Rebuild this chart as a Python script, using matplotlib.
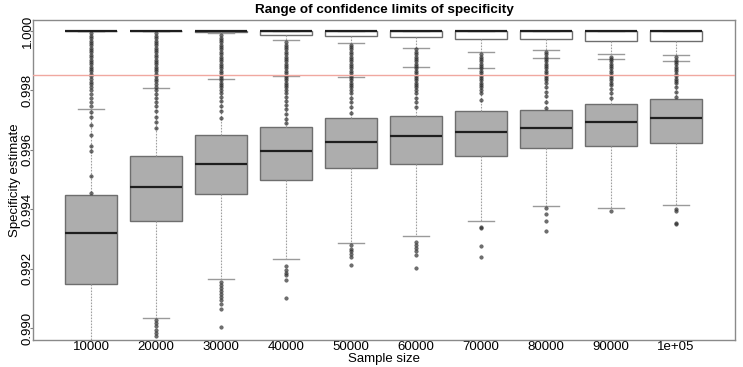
import matplotlib
matplotlib.use("Agg")
import matplotlib.pyplot as plt

plt.rcParams["font.family"] = ["Liberation Sans", "DejaVu Sans"]

# Sample sizes (x categories)
sizes = ["10000", "20000", "30000", "40000", "50000",
         "60000", "70000", "80000", "90000", "1e+05"]

# Lower confidence limits (grey boxes)
low_q1 = [0.99148, 0.99360, 0.99453, 0.99498, 0.99538,
          0.99554, 0.99580, 0.99605, 0.99614, 0.99624]
low_med = [0.99319, 0.99476, 0.99552, 0.99596, 0.99625,
           0.99646, 0.99661, 0.99674, 0.99693, 0.99708]
low_q3 = [0.99448, 0.99579, 0.99650, 0.99678, 0.99708,
          0.99715, 0.99731, 0.99734, 0.99753, 0.99770]
low_whislo = [0.98850, 0.99033, 0.99164, 0.99232, 0.99285,
              0.99310, 0.99362, 0.99411, 0.99405, 0.99413]
low_whishi = [0.99737, 0.99808, 0.99839, 0.99848, 0.99844,
              0.99880, 0.99875, 0.99908, 0.99905, 0.99898]
low_out = [
    [],
    [0.99027, 0.99018, 0.99008, 0.98995, 0.98985, 0.98972],
    [0.99155, 0.99145, 0.99135, 0.99125, 0.99115, 0.99105, 0.99095,
     0.99080, 0.99065, 0.99003],
    [0.99210, 0.99195, 0.99185, 0.99178, 0.99162, 0.99101],
    [0.99279, 0.99265, 0.99258, 0.99250, 0.99239, 0.99212],
    [0.99291, 0.99280, 0.99270, 0.99258, 0.99246, 0.99201],
    [0.99341, 0.99336, 0.99278, 0.99239],
    [0.99403, 0.99383, 0.99361, 0.99328],
    [0.99395],
    [0.99400, 0.99395, 0.99355, 0.99349],
]

# Upper confidence limits (white boxes near 1)
up_q1 = [1.0, 1.0, 0.99998, 0.99987, 0.99983,
         0.99979, 0.99972, 0.99973, 0.99967, 0.99967]
up_med = [1.0, 1.0, 1.0, 1.0, 1.0, 1.0, 1.0, 1.0, 1.0, 1.0]
up_q3 = [1.0, 1.0, 1.0, 1.0, 1.0, 1.0, 1.0, 1.0, 1.0, 1.0]
up_whislo = [1.0, 1.0, 0.99993, 0.99969, 0.99960,
             0.99944, 0.99928, 0.99936, 0.99921, 0.99918]
up_whishi = [1.0, 1.0, 1.0, 1.0, 1.0, 1.0, 1.0, 1.0, 1.0, 1.0]
up_out = [
    [0.99992, 0.99984, 0.99976, 0.99968, 0.99960, 0.99952, 0.99944,
     0.99936, 0.99928, 0.99920, 0.99912, 0.99904, 0.99896, 0.99888,
     0.99880, 0.99872, 0.99864, 0.99856, 0.99848, 0.99840, 0.99830,
     0.99820, 0.99810, 0.99800, 0.99788, 0.99775, 0.99762, 0.99748,
     0.99728, 0.99712, 0.99682, 0.99650, 0.99612, 0.99596, 0.99512,
     0.99455],
    [0.99992, 0.99984, 0.99976, 0.99968, 0.99960, 0.99952, 0.99944,
     0.99936, 0.99928, 0.99920, 0.99912, 0.99904, 0.99896, 0.99888,
     0.99880, 0.99872, 0.99864, 0.99856, 0.99848, 0.99840, 0.99832,
     0.99822, 0.99812, 0.99800, 0.99788, 0.99776, 0.99762, 0.99748,
     0.99730, 0.99712, 0.99695, 0.99673],
    [0.99986, 0.99978, 0.99970, 0.99962, 0.99954, 0.99946, 0.99938,
     0.99930, 0.99922, 0.99914, 0.99906, 0.99898, 0.99890, 0.99882,
     0.99874, 0.99866, 0.99858, 0.99850, 0.99842, 0.99834, 0.99826,
     0.99818, 0.99810, 0.99800, 0.99790, 0.99778, 0.99765, 0.99748,
     0.99730, 0.99707],
    [0.99962, 0.99954, 0.99946, 0.99938, 0.99930, 0.99922, 0.99914,
     0.99906, 0.99898, 0.99890, 0.99882, 0.99874, 0.99866, 0.99858,
     0.99850, 0.99842, 0.99834, 0.99826, 0.99818, 0.99810, 0.99802,
     0.99790, 0.99778, 0.99765, 0.99752, 0.99738, 0.99722, 0.99705,
     0.99689],
    [0.99954, 0.99946, 0.99938, 0.99930, 0.99922, 0.99914, 0.99906,
     0.99898, 0.99890, 0.99882, 0.99874, 0.99866, 0.99858, 0.99850,
     0.99842, 0.99834, 0.99826, 0.99818, 0.99810, 0.99802, 0.99790,
     0.99776, 0.99762, 0.99745, 0.99724],
    [0.99938, 0.99930, 0.99922, 0.99914, 0.99906, 0.99898, 0.99890,
     0.99882, 0.99874, 0.99866, 0.99858, 0.99850, 0.99842, 0.99834,
     0.99826, 0.99818, 0.99810, 0.99800, 0.99790, 0.99775, 0.99760,
     0.99745],
    [0.99922, 0.99914, 0.99906, 0.99898, 0.99890, 0.99882, 0.99874,
     0.99866, 0.99858, 0.99850, 0.99842, 0.99834, 0.99826, 0.99818,
     0.99810, 0.99800, 0.99790, 0.99768],
    [0.99930, 0.99922, 0.99914, 0.99906, 0.99898, 0.99890, 0.99882,
     0.99874, 0.99866, 0.99858, 0.99850, 0.99842, 0.99834, 0.99826,
     0.99810, 0.99795, 0.99780, 0.99760, 0.99740],
    [0.99914, 0.99906, 0.99898, 0.99890, 0.99882, 0.99874, 0.99866,
     0.99858, 0.99850, 0.99842, 0.99834, 0.99826, 0.99818, 0.99805,
     0.99790, 0.99773],
    [0.99912, 0.99904, 0.99896, 0.99888, 0.99880, 0.99872, 0.99864,
     0.99856, 0.99848, 0.99840, 0.99832, 0.99825, 0.99810, 0.99795,
     0.99779],
]

ref_line = 0.99852
yticks = [0.990, 0.992, 0.994, 0.996, 0.998, 1.000]

positions = list(range(1, len(sizes) + 1))

low_stats = [dict(q1=low_q1[i], med=low_med[i], q3=low_q3[i],
                  whislo=low_whislo[i], whishi=low_whishi[i],
                  fliers=low_out[i]) for i in range(len(sizes))]
up_stats = [dict(q1=up_q1[i], med=up_med[i], q3=up_q3[i],
                 whislo=up_whislo[i], whishi=up_whishi[i],
                 fliers=up_out[i]) for i in range(len(sizes))]

fig = plt.figure(figsize=(7.43, 3.67), dpi=100)
ax = fig.add_axes([33 / 743, 1 - 340 / 367, 702 / 743, 320 / 367])

edge = "#6e6e6e"
whisk = dict(color="#a0a0a0", linewidth=0.8, linestyle=(0, (1.5, 1.2)))
caps = dict(color="#9a9a9a", linewidth=1.0)
fliers = dict(marker="o", markersize=2.6, markerfacecolor="#303030",
              markeredgecolor="#303030", markeredgewidth=0.3, alpha=0.7,
              linestyle="none")
med = dict(color="#1e1e1e", linewidth=1.6)

ax.bxp(low_stats, positions=positions, widths=0.8, capwidths=0.4,
       patch_artist=True, manage_ticks=False,
       boxprops=dict(facecolor="#adadad", edgecolor=edge, linewidth=1.0),
       whiskerprops=whisk, capprops=caps, flierprops=fliers,
       medianprops=med)
ax.bxp(up_stats, positions=positions, widths=0.8, capwidths=0.4,
       patch_artist=True, manage_ticks=False,
       boxprops=dict(facecolor="white", edgecolor=edge, linewidth=1.0),
       whiskerprops=whisk, capprops=caps, flierprops=fliers,
       medianprops=med)

ax.axhline(ref_line, color="#f0a8a0", linewidth=1.0, zorder=5)

ax.set_xlim(0.108, 10.908)
ax.set_ylim(0.98960, 1.00037)
ax.set_xticks(positions)
ax.set_xticklabels(sizes, fontsize=9.5)
ax.set_yticks(yticks)
ax.set_yticklabels(["%.3f" % v for v in yticks], fontsize=9.5,
                   rotation=90, va="center")
ax.tick_params(axis="x", length=0, pad=0.5)
ax.tick_params(axis="y", length=2.2, width=0.8, color="#808080", pad=-2.8)

for s in ax.spines.values():
    s.set_color("#8a8a8a")
    s.set_linewidth(1.0)

ax.set_title("Range of confidence limits of specificity", fontsize=9.7,
             fontweight="bold", pad=5)
ax.set_xlabel("Sample size", fontsize=9.5, labelpad=0)
ax.set_ylabel("Specificity estimate", fontsize=9.5)
ax.yaxis.set_label_coords(-0.0168, 0.5)

fig.savefig("out.png", dpi=100)
